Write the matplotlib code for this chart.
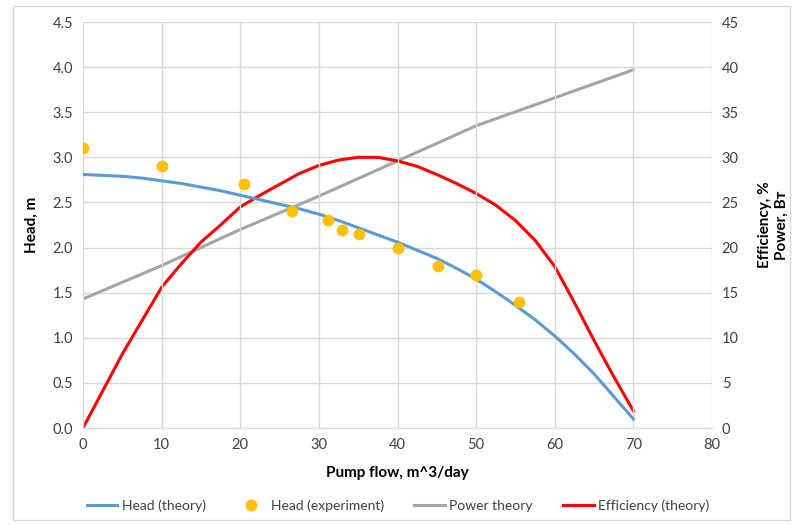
import matplotlib
matplotlib.use("Agg")
import matplotlib.pyplot as plt
from matplotlib.patches import Rectangle

plt.rcParams['font.family'] = ['Lato', 'DejaVu Sans']

flow_theory = [0, 2.5, 5, 7.5, 10, 12.5, 15, 17.5, 20, 22.5, 25, 27.5, 30, 32.5, 35, 37.5,
               40, 42.5, 45, 47.5, 50, 52.5, 55, 57.5, 60, 62.5, 65, 67.5, 70]
head_theory = [2.81, 2.80, 2.79, 2.77, 2.74, 2.71, 2.67, 2.63, 2.58, 2.53, 2.48, 2.43, 2.37, 2.30, 2.22, 2.14,
               2.06, 1.97, 1.88, 1.77, 1.65, 1.51, 1.36, 1.20, 1.02, 0.82, 0.60, 0.35, 0.10]
eff_theory = [0, 4.1, 8.2, 11.9, 15.6, 18.2, 20.6, 22.5, 24.5, 25.8, 27.0, 28.2, 29.1, 29.7, 30.0, 30.0,
              29.6, 29.0, 28.1, 27.1, 26.0, 24.7, 23.0, 20.8, 17.9, 13.9, 9.7, 5.7, 1.9]

flow_power = [0, 10, 20, 30, 40, 50, 60, 70]
power_theory = [14.3, 18.0, 22.0, 25.7, 29.6, 33.5, 36.6, 39.7]

# measured head
flow_exp = [0, 10, 20.5, 26.6, 31.1, 32.9, 35.1, 40, 45.2, 50, 55.4]
head_exp = [3.1, 2.9, 2.7, 2.4, 2.3, 2.2, 2.15, 2.0, 1.8, 1.7, 1.4]

c_blue = '#5B9BD5'
c_gold = '#FFC000'
c_gray = '#A5A5A5'
c_red = '#FF0000'
c_grid = '#D9D9D9'
c_text = '#404040'

fig = plt.figure(figsize=(7.96, 5.25), dpi=100)
fig.patches.append(Rectangle((13 / 796, 5 / 525), 777 / 796, 514 / 525, transform=fig.transFigure,
                             fill=False, edgecolor=c_grid, lw=1))
ax = fig.add_axes([83 / 796, 1 - 428 / 525, 629 / 796, 406 / 525])
ax2 = ax.twinx()

l1, = ax.plot(flow_theory, head_theory, color=c_blue, lw=2.2, label='Head (theory)', zorder=3,
              solid_joinstyle='round')
l2, = ax.plot(flow_exp, head_exp, 'o', color=c_gold, ms=7.5, label='Head (experiment)', zorder=4)
l3, = ax2.plot(flow_power, power_theory, color=c_gray, lw=2.2, label='Power theory')
l4, = ax2.plot(flow_theory, eff_theory, color=c_red, lw=2.2, label='Efficiency (theory)',
               solid_joinstyle='round')
ax.set_zorder(ax2.get_zorder() + 1)
ax.patch.set_visible(False)

ax.set_xlim(0, 80)
ax.set_ylim(0, 4.5)
ax2.set_ylim(0, 45)
ax.set_xticks(range(0, 81, 10))
ax.set_yticks([i * 0.5 for i in range(10)])
ax.set_yticklabels([f'{i * 0.5:.1f}' for i in range(10)])
ax2.set_yticks(range(0, 46, 5))

ax2.grid(axis='y', color=c_grid, lw=1)
ax.grid(axis='x', color=c_grid, lw=1)
for a in (ax, ax2):
    for s in a.spines.values():
        s.set_visible(False)
    a.tick_params(length=0, labelsize=10.5, colors=c_text, pad=7)
ax.spines['bottom'].set_visible(True)
ax.spines['bottom'].set_color(c_grid)

ax.set_xlabel('Pump flow, m^3/day', fontsize=11, fontweight='bold', color='black', labelpad=10)
ax.set_ylabel('Head, m', fontsize=11, fontweight='bold', color='black', labelpad=10)
ax2.set_ylabel('Efficiency, %\nPower, Вт', fontsize=11, fontweight='bold', color='black',
               labelpad=14, rotation=90, multialignment='center')

fig.legend(handles=[l1, l2, l3, l4], loc='center', bbox_to_anchor=(0.5, 1 - 506 / 525), ncol=4,
           frameon=False, fontsize=10, handlelength=2.2, columnspacing=2.2, handletextpad=0.3,
           labelcolor=c_text)

fig.savefig('out.png', dpi=100)
